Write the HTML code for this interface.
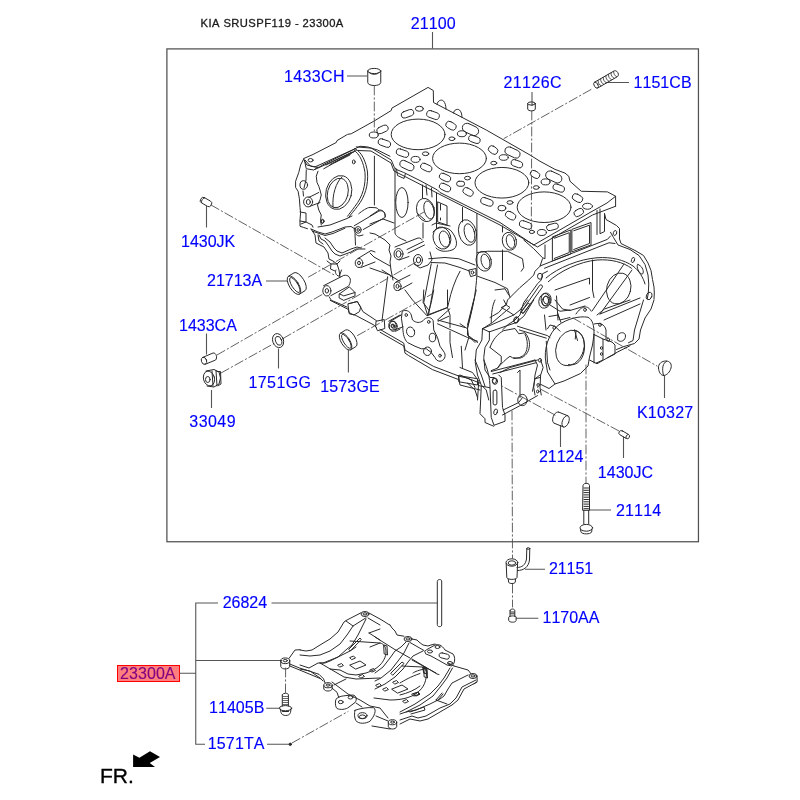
<!DOCTYPE html>
<html><head><meta charset="utf-8"><style>
html,body{margin:0;padding:0;background:#fff;width:800px;height:800px;overflow:hidden}
svg{display:block;will-change:transform}
text{font-family:"Liberation Sans",sans-serif;font-kerning:none}
.l{font-size:16px;fill:#0000ff;letter-spacing:0.4px;stroke:#0000ff;stroke-width:0.15}
.k{stroke:#333;stroke-width:1;fill:none}
.g{stroke:#555;stroke-width:1.1;fill:none}
.d{stroke:#505050;stroke-width:0.9;fill:none;stroke-dasharray:9 2.8 1.4 2.8}
.e{stroke:#2a2a2a;stroke-width:1;fill:none;stroke-linejoin:round;stroke-linecap:round}
.e *{vector-effect:non-scaling-stroke}
.ew{stroke:#2a2a2a;stroke-width:0.9;fill:#fff;stroke-linejoin:round}
</style></head><body>
<svg width="800" height="800" viewBox="0 0 800 800">
<!-- title -->
<text x="200.6" y="27" style="font-size:11.2px;letter-spacing:0.43px;fill:#1a1a1a;stroke:#1a1a1a;stroke-width:0.3">KIA SRUSPF119 - 23300A</text>
<!-- frame -->
<rect x="166.9" y="48.9" width="531.55" height="492.85" style="stroke:#505050;stroke-width:1.25;fill:none"/>
<path class="g" d="M432.5 32V48.5"/>

<!-- labels -->
<g class="l">
<text x="410.75" y="28.75" style="letter-spacing:0.088px">21100</text>
<text x="284.00" y="82" style="letter-spacing:0.350px">1433CH</text>
<text x="503.50" y="87.5" style="letter-spacing:0.400px">21126C</text>
<text x="633.50" y="87.5" style="letter-spacing:0.050px">1151CB</text>
<text x="181.00" y="247" style="letter-spacing:0.000px">1430JK</text>
<text x="207.00" y="286.25" style="letter-spacing:0.000px">21713A</text>
<text x="179.00" y="331.25" style="letter-spacing:0.000px">1433CA</text>
<text x="248.50" y="388.4" style="letter-spacing:0.400px">1751GG</text>
<text x="320.20" y="392" style="letter-spacing:0.160px">1573GE</text>
<text x="189.30" y="427" style="letter-spacing:0.450px">33049</text>
<text x="637.00" y="418" style="letter-spacing:0.200px">K10327</text>
<text x="539.00" y="462" style="letter-spacing:-0.037px">21124</text>
<text x="597.75" y="478" style="letter-spacing:0.050px">1430JC</text>
<text x="616.00" y="515.8" style="letter-spacing:0.150px">21114</text>
<text x="549.00" y="573.75" style="letter-spacing:-0.100px">21151</text>
<text x="542.50" y="623" style="letter-spacing:0.000px">1170AA</text>
<text x="222.75" y="608" style="letter-spacing:-0.037px">26824</text>
<text x="209.00" y="713" style="letter-spacing:0.050px">11405B</text>
<text x="207.75" y="749.25" style="letter-spacing:0.150px">1571TA</text>
</g>
<!-- highlighted label -->
<text x="120.1" y="678.7" class="l" style="letter-spacing:0.05px">23300A</text>
<rect x="117.5" y="665.5" width="62" height="16" fill="rgba(255,0,0,0.5)" stroke="#ff0000" stroke-width="1"/>

<!-- FR -->
<text x="100" y="782.75" style="font-size:21px;fill:#000;stroke:#000;stroke-width:0.35">FR.</text>
<polygon points="133.1,754.4 139.4,757.75 150,751.25 160,756.9 149.75,763.1 155,766.9 133.1,766.9" fill="#000"/>

<!-- lower bracket leaders -->
<path class="g" d="M218 603H195.75V744.25H205M195.75 660.5H282M179.5 673.25H195.75M271.5 603H437.3M267 744.25H290M266.25 708.2H279.4"/>
<path class="g" d="M347 76H367M206.5 206V227.5M266 281H287.5M206.5 333.5V354.5M211.5 390V408M278.5 348.5V368.6M348.4 350V372.5M664.5 376V398M560.5 425V447M623.5 436.5V458M589.5 510H611M525 569.25H545M516 618.2H538.3M532 92V106M606 82.5H629"/>

<g class="e">
<path d="M303.75,158.5 L313,154.5 L336.25,142.5 L337,140.6 L347.5,134.4 L351.25,133.75 L373.75,121.25 L391.25,110.5 L391.9,108.1 L428.1,87.4 L433.3,90.5 L433.5,102.5 L486.25,130 L530,155 L540,161.25 L555,169.4 L565,173.1 L568.75,176.25 L570,181.25 L581.25,191.25 L607.5,191.9 L615.6,196.25 L615.6,206.25"/>
<path d="M304,160 L306.9,165 L315,166.9 L355,148.75"/>
<path d="M315,169.4 L356.25,150.6"/>
<path d="M356.25,146.9 L371.25,148.1 L391.25,160 L394.4,167.5 L396.25,169.4 L403.75,172.5 L420,180.6 L437.5,190 L440,192.5 L500,222.5 L533.75,245 L590,212.5 L607,203 L615.6,196.25"/>
<path d="M358,150.5 L371,151 L391,163 L394,171 L403,175.5 L438,193.5 L500,225 L537.5,247 L552.5,238 L592.5,215 L615.6,206.25"/>
<ellipse cx="418.1" cy="134.4" rx="26.9" ry="15.3"/>
<ellipse cx="459.5" cy="158.4" rx="26.9" ry="15.3"/>
<ellipse cx="501.9" cy="182.75" rx="26.9" ry="15.3"/>
<ellipse cx="544.1" cy="207.2" rx="26.9" ry="15.3"/>
<ellipse cx="373.75" cy="135" rx="4.5" ry="3"/>
<ellipse cx="419.4" cy="108.75" rx="4" ry="2.5"/>
<ellipse cx="461.9" cy="133.75" rx="4.5" ry="3"/>
<ellipse cx="415.6" cy="159.4" rx="4.5" ry="3"/>
<ellipse cx="503.75" cy="157.5" rx="4.5" ry="2.8"/>
<ellipse cx="545.6" cy="181.9" rx="4.5" ry="3"/>
<ellipse cx="541.9" cy="232.5" rx="4.5" ry="3"/>
<ellipse cx="587.5" cy="206.25" rx="5" ry="3"/>
<ellipse cx="501.9" cy="208.1" rx="4" ry="2.8"/>
<ellipse cx="425.6" cy="153.75" rx="3.2" ry="1.9"/>
<ellipse cx="451.9" cy="138.75" rx="3" ry="1.8"/>
<ellipse cx="493.75" cy="163.1" rx="3" ry="1.8"/>
<ellipse cx="510" cy="202.5" rx="3" ry="1.8"/>
<ellipse cx="536.25" cy="187.5" rx="3" ry="1.8"/>
<ellipse cx="531.9" cy="231.9" rx="2.6" ry="1.6"/>
<ellipse cx="467.5" cy="178.1" rx="3" ry="1.8"/>
<rect x="376.5" y="126.2" width="12" height="6.4" rx="3.2" transform="rotate(-25 382.5 129.4)"/>
<rect x="377.9" y="139.9" width="13.0" height="6.4" rx="3.2" transform="rotate(20 384.4 143.1)"/>
<rect x="401.0" y="110.55" width="13.0" height="6.4" rx="3.2" transform="rotate(-20 407.5 113.75)"/>
<rect x="426.5" y="111.6" width="13.0" height="6.8" rx="3.4" transform="rotate(20 433 115)"/>
<rect x="445.5" y="122.3" width="11.0" height="6.8" rx="3.4" transform="rotate(30 451 125.7)"/>
<rect x="462.0" y="124.89999999999999" width="17.0" height="9.0" rx="4.5" transform="rotate(25 470.5 129.4)"/>
<rect x="396.0" y="149.9" width="13.0" height="6.4" rx="3.2" transform="rotate(20 402.5 153.1)"/>
<rect x="399.4" y="162.0" width="15.0" height="7.2" rx="3.6" transform="rotate(25 406.9 165.6)"/>
<rect x="420.25" y="164.3" width="12" height="6.4" rx="3.2" transform="rotate(25 426.25 167.5)"/>
<rect x="439" y="174.3" width="12" height="6.4" rx="3.2" transform="rotate(25 445 177.5)"/>
<rect x="439" y="184.3" width="12" height="6.4" rx="3.2" transform="rotate(25 445 187.5)"/>
<rect x="468.4" y="136.20000000000002" width="12" height="6.4" rx="3.2" transform="rotate(20 474.4 139.4)"/>
<rect x="488.1" y="146.6" width="10" height="6.8" rx="3.4" transform="rotate(35 493.1 150)"/>
<rect x="504.5" y="148.5" width="16" height="8" rx="4" transform="rotate(25 512.5 152.5)"/>
<rect x="510.9" y="160.55" width="12" height="6.4" rx="3.2" transform="rotate(20 516.9 163.75)"/>
<rect x="530" y="171.20000000000002" width="10" height="6.4" rx="3.2" transform="rotate(30 535 174.4)"/>
<rect x="545.25" y="172.6" width="17.0" height="8.6" rx="4.3" transform="rotate(25 553.75 176.9)"/>
<rect x="552.75" y="184.9" width="12" height="6.4" rx="3.2" transform="rotate(20 558.75 188.1)"/>
<rect x="572.0" y="194.7" width="11.0" height="6.8" rx="3.4" transform="rotate(30 577.5 198.1)"/>
<rect x="573.75" y="209.3" width="10" height="6.4" rx="3.2" transform="rotate(-30 578.75 212.5)"/>
<rect x="505.1" y="212.2" width="11.0" height="6.8" rx="3.4" transform="rotate(30 510.6 215.6)"/>
<rect x="519.1" y="221.7" width="13.0" height="6.6" rx="3.3" transform="rotate(20 525.6 225)"/>
<rect x="546.5" y="223.9" width="12" height="6" rx="3" transform="rotate(-15 552.5 226.9)"/>
<rect x="462.6" y="188.6" width="11.0" height="6.6" rx="3.3" transform="rotate(30 468.1 191.9)"/>
<rect x="480.4" y="198.6" width="13.0" height="6.6" rx="3.3" transform="rotate(20 486.9 201.9)"/>
<rect x="456.6" y="181.25" width="8" height="5.0" rx="2.5" transform="rotate(0 460.6 183.75)"/>
<path d="M437,104.3 C437.5,100.5 441.5,99 443.5,101 C445,102.5 446,105.5 446,109"/>
<path d="M453.5,113 C454,109.5 457.5,108.5 459.5,110 C461,111.5 462,114 462,117.5"/>
<path d="M303.75,158.75 L300.6,165 L298.75,172.5 L295.6,181.25 L295.6,187.5 L298.1,191.25 L299.4,198.75 L300,207.5 L300.6,212.5 L300,220 L300,226.25 L303.75,227.5 L307.5,228.75 M355,148.75 C362,152 366,162 367.5,172 C368.5,185 365,197 357.5,206.25 C354,211 351,214 348.75,217.5 M353.75,150 C360,154 363.5,163 365,172.5 C366,185 362.5,197 355,206.25 C352,210.5 349.5,213.5 347.5,216.25 M305,160 L310.6,166.25 L318.75,167.5 L322.5,165 L352.5,150 L355,148.75 M323.75,168.75 L353.75,151.9 M326,165 L352,152 M330,164.5 L351,153.5 M335,162.5 L350,155 M304.4,160 L306.25,168.75 L313.75,170 L318,167 M318,171.25 L316.25,176.25 L317,182.5 L318.75,186.25 L320,190 L321.25,195 L320,200 L317.5,205 L318.75,210 L321.25,215 L320.6,220 L321.25,225 M306.25,170 L306,180 L304,188 M303,191 L303.5,196 M308.75,197.5 L318.75,192.5 M310,206.25 L320,202.5 M374.4,156.25 L374.4,205 M355,148.75 L360,146.25 L367.5,146.9 L377.5,150 L390,156.25 M300,212 L306,213 L306,222 L301,224"/>
<ellipse cx="303.75" cy="185" rx="3.8" ry="4.3"/>
<ellipse cx="308.1" cy="201.9" rx="4.5" ry="5"/>
<ellipse cx="308.3" cy="202" rx="2" ry="2.5"/>
<ellipse cx="338.75" cy="192.5" rx="12.8" ry="17.2" transform="rotate(15 338.75 192.5)"/>
<ellipse cx="337.8" cy="193" rx="10.2" ry="15" transform="rotate(15 337.8 193)"/>
<path d="M342,177 C336,182 332,195 333,207"/>
<ellipse cx="353.75" cy="161.9" rx="1.4" ry="2"/>
<ellipse cx="322.5" cy="221.25" rx="1.4" ry="2"/>
<ellipse cx="310.6" cy="160.2" rx="2.5" ry="1.7"/>
<ellipse cx="401.9" cy="202.5" rx="6.2" ry="15"/>
<path d="M395,168 L395,200"/>
<ellipse cx="467.5" cy="232.5" rx="8.75" ry="13" transform="rotate(-15 467.5 232.5)"/>
<ellipse cx="469.5" cy="233" rx="5" ry="9.5" transform="rotate(-15 469.5 233)"/>
<ellipse cx="509.4" cy="241.25" rx="7" ry="9" transform="rotate(-15 509.4 241.25)"/>
<ellipse cx="510.5" cy="241.5" rx="4" ry="7" transform="rotate(-15 510.5 241.5)"/>
<ellipse cx="397.5" cy="286.25" rx="3.6" ry="4.3"/>
<ellipse cx="397.5" cy="286.25" rx="1.5" ry="2"/>
<path d="M396,282 L410,275 M398.5,290.5 L412,283"/>
<path d="M476.9,213.5 L476.9,275 C476,290 474,300 472.5,307.5 L467.5,328.75 L467.5,335 L477.5,342.5"/>
<path d="M436.5,193 L436.5,228 M462.5,207.5 L462.5,222 M502.5,226 L502.5,232 M502.5,250 L502.5,280 M422.5,185 L422.5,198"/>
<ellipse cx="483.75" cy="261.25" rx="7.5" ry="10" transform="rotate(-15 483.75 261.25)"/>
<ellipse cx="485.5" cy="261.5" rx="4.2" ry="7.5" transform="rotate(-15 485.5 261.5)"/>
<path d="M433,232 C437,226 448,226 452,232 C458,240 458,248 452,250 C446,252 440,252 436,248"/>
<path d="M428.75,258.75 L445,257.5 L458.75,258.75 L475,265 M431,262.5 L445,263 L460,267.5 L470,271.25"/>
<path d="M431.25,263.75 L423.75,302.5 L427.5,315 M437.5,265 L428.75,313.75"/>
<path d="M460,271.25 C455,280 451,292 448.75,302.5 L447.5,307.5 L427.5,315 M450,308.75 L437.5,320 L465,327.5"/>
<path d="M469,270 L476,268.5 L476,275 L471,276.5 Z"/><ellipse cx="472.5" cy="272.5" rx="1.3" ry="1.6"/>
<path d="M354.25,225.75 L378.25,211.5 C381,210 384.5,211 385,214 L385,217.5 L363.25,229.5"/>
<path d="M358.75,213.75 C362,211 367,207.5 370,207.4 L376,207.75 C378,208.5 379,209.5 379,210.5"/>
<path d="M396.5,169 L397.5,175.5 L404,178.5 L405.5,173.5"/>
<path d="M426,185 L427,195 M431.5,188 L432,197"/>
<g transform="translate(295,205) scale(0.1)">
<path d="M50,160 L110,170 L170,200 L180,222"/>
<path d="M230,220 L350,200 L520,135 L570,110"/>
<path d="M160,240 L230,270 L300,290 L370,270 L500,220 L560,215 L600,240"/>
<path d="M175,262 L300,305 L380,285 L500,232"/>
<path d="M160,240 L200,300 L210,380 L250,400 L290,420 L330,480 L340,540 L380,560 L420,590 L440,650 L450,720"/>
<path d="M240,300 L260,340 L300,360 L330,400 L370,460 L400,490 L450,510 L560,470 L610,440 L700,440"/>
<path d="M300,330 L350,370 L390,430 L420,460 L470,480 L560,440 L620,420 L660,430"/>
<ellipse cx="632" cy="249" rx="30" ry="34"/>
<ellipse cx="632" cy="250" rx="12" ry="15"/>
<path d="M595,230 C585,260 600,300 640,310 L680,300"/>
<ellipse cx="640" cy="580" rx="38" ry="45"/>
<ellipse cx="640" cy="580" rx="14" ry="18"/>
<path d="M630,535 L760,455 L800,470 M660,625 L800,570"/>
<path d="M600,290 L605,400"/>
<ellipse cx="275" cy="165" rx="14" ry="18" transform="rotate(25 275 165)"/>
<path d="M320,560 L360,590 L420,590 L450,560 M360,590 L355,640 L400,660"/>
<path d="M230,300 L240,360 L280,390"/>
</g>
<g transform="translate(310,270) scale(0.1125)">
<ellipse cx="150" cy="185" rx="36" ry="46"/>
<ellipse cx="150" cy="185" rx="15" ry="20"/>
<path d="M120,140 L300,48 C340,40 365,70 358,105 C352,130 345,140 340,145 L185,228"/>
<path d="M262,212 L350,150 L400,200 L400,230 L300,270 L262,250 Z M262,212 L300,230 L400,200"/>
<path d="M170,238 L190,270 L240,290 L330,330 M345,300 L420,280 L450,330 L470,370 L560,430 L590,450"/>
<path d="M180,270 L340,350 L350,390 L400,400 L570,490 L590,510"/>
<path d="M340,300 L420,280 L450,330 L440,370 L390,400 L350,380 Z"/>
<ellipse cx="740" cy="500" rx="35" ry="45"/>
<ellipse cx="740" cy="500" rx="14" ry="18"/>
<path d="M700,455 L800,400 M760,545 L800,525"/>
<path d="M590,455 L660,440 L665,520 L600,540 L585,505 Z"/>
<path d="M690,60 L640,450 M640,0 L780,90 L800,100"/>
<path d="M230,0 C220,20 230,50 260,55 L280,0"/>
</g>
<g transform="translate(370,200) scale(0.1)">
<path d="M250,0 L250,330 C255,355 280,375 340,400 L360,410"/>
<ellipse cx="555" cy="100" rx="88" ry="118" transform="rotate(-15 555 100)"/>
<ellipse cx="590" cy="100" rx="48" ry="92" transform="rotate(-15 590 100)"/>
<path d="M470,130 L550,200"/>
<path d="M680,20 L770,60 L770,250 L680,220 Z"/>
<path d="M705,40 L705,200" style="stroke-dasharray:6 8"/>
<ellipse cx="720" cy="380" rx="88" ry="112" transform="rotate(-15 720 380)"/>
<ellipse cx="745" cy="390" rx="50" ry="82" transform="rotate(-15 745 390)"/>
<path d="M530,230 L530,380"/>
<path d="M0,160 L90,100 C120,95 150,120 155,165 M0,240 L130,190 L240,230"/>
<ellipse cx="285" cy="540" rx="45" ry="55"/>
<ellipse cx="285" cy="540" rx="25" ry="33"/>
<path d="M250,470 L480,380 C505,378 520,390 520,400 M290,600 L390,565"/>
<path d="M370,495 L535,415 M380,530 L545,450"/>
<ellipse cx="480" cy="600" rx="45" ry="55"/>
<ellipse cx="485" cy="600" rx="22" ry="28"/>
<path d="M440,640 L500,680 L580,650 L620,600 L600,520"/>
<path d="M0,330 L50,340 L150,400 L200,450 L190,500 L210,560 L200,620 L210,700 L230,800"/>
<path d="M0,530 L40,570 L200,660 M0,680 L200,750"/>
<path d="M620,250 L660,230 L800,260"/>
</g>
<g transform="translate(380,290) scale(0.125)">
<path d="M0,315 L190,425 L200,480 L240,505 L430,612 L640,692 L700,705 L800,745"/>
<path d="M0,338 L190,447 L200,505 L230,525 L420,637 L630,717 L640,760 L800,800"/>
<path d="M180,170 C200,155 240,165 250,200 L260,240 C290,265 320,265 345,245 C365,215 410,210 425,245 L430,320 L460,380 L480,450 L515,500 C530,530 515,565 480,570 C460,570 445,555 440,540 L410,500 L370,470 L330,470 L280,450 L220,420 C195,395 185,360 182,300 L172,230 Z"/>
<ellipse cx="210" cy="200" rx="10" ry="12"/>
<ellipse cx="390" cy="255" rx="10" ry="12"/>
<ellipse cx="245" cy="335" rx="32" ry="40" transform="rotate(-20 245 335)"/>
<ellipse cx="420" cy="380" rx="26" ry="34"/>
<ellipse cx="480" cy="525" rx="10" ry="12"/>
<ellipse cx="380" cy="490" rx="32" ry="34"/>
<ellipse cx="100" cy="285" rx="30" ry="35"/>
<ellipse cx="100" cy="287" rx="12" ry="14"/>
<path d="M80,252 L170,200 M112,320 L185,295"/>
<path d="M200,0 L260,80 L375,205 M350,0 L345,100 L390,160 M430,0 L410,100 L380,205"/>
<path d="M380,205 L540,140 L560,200 L560,300 M460,270 L700,380 L780,410 M465,250 L550,210"/>
<path d="M540,0 L540,130 M770,0 L700,300 L700,360 L760,420 M560,330 L560,420 L580,540 M650,450 L660,620"/>
</g>
<g transform="translate(540,200) scale(0.15)">
<path d="M430,90 L440,130 L510,170 L530,190 L530,260 L540,290 L580,310 L640,340 L690,370 L720,420 L740,470 L750,530 L760,580 L762,620 L760,660"/>
<path d="M470,215 L490,250 L520,300 L600,330 L660,370 L700,430 L720,500 L725,560 L722,620 L715,660"/>
<path d="M380,70 L380,230 M400,60 L400,225 L430,210 L430,95"/>
<ellipse cx="500" cy="220" rx="11" ry="17" transform="rotate(20 500 220)"/>
<ellipse cx="620" cy="400" rx="10" ry="18" transform="rotate(20 620 400)"/>
<path d="M650,430 C640,445 660,490 680,495 C695,490 690,455 670,440 Z"/>
<ellipse cx="727" cy="640" rx="18" ry="26" transform="rotate(20 727 640)"/>
<path d="M85,245 L205,200 L205,360 L85,405 Z M95,255 L195,218 L195,350 L95,390"/>
<path d="M215,195 L340,150 L340,300 L215,345 Z M225,205 L330,168 L330,290 L225,330"/>
<path d="M0,440 L450,262 L470,240 M30,455 L460,285 L500,290"/>
<path d="M40,520 C120,450 260,395 380,385 C480,378 560,400 620,440 C660,470 690,520 700,560"/>
<path d="M55,545 C130,475 265,410 380,400 C475,393 555,415 610,455"/>
<path d="M350,400 L350,600 L360,650 M347,740 L560,427 M400,760 L613,467 M400,760 L667,653 M427,800 L667,693"/>
<ellipse cx="525" cy="590" rx="80" ry="105" transform="rotate(15 525 590)"/>
<ellipse cx="38" cy="665" rx="30" ry="42" transform="rotate(-10 38 665)"/>
<ellipse cx="40" cy="667" rx="17" ry="26" transform="rotate(-10 40 667)"/>
<path d="M100,600 L330,520 L330,560 M110,640 L120,800 M200,700 L330,650"/>
<path d="M240,760 C280,700 320,700 340,740"/>
</g>
<g transform="translate(540,300) scale(0.15)">
<path d="M40,420 C20,330 60,220 120,170 C180,125 260,105 320,115 C350,130 362,170 360,230"/>
<path d="M40,420 L50,480 L100,560 L160,540 L270,490 L320,440 L330,380 L350,300 L360,230"/>
<ellipse cx="200" cy="320" rx="92" ry="122" transform="rotate(20 200 320)"/>
<path d="M230,200 C290,215 310,290 290,360 C270,420 230,440 190,430"/>
<path d="M230,200 L250,270 M240,210 L235,260"/>
<path d="M760,0 L740,60 L700,120 L670,200 L660,260 L630,290 L560,310 L510,330"/>
<path d="M690,0 L660,100 L630,200 L620,270 L590,285"/>
<path d="M330,400 L380,425 L450,385 L520,345 L600,305"/>
<path d="M360,230 L420,260 L420,400 L375,420 M360,230 L360,420"/>
<path d="M420,260 L480,280 L500,300 L500,360 L450,385"/>
<path d="M360,160 C400,150 430,160 440,200 L440,260"/>
<path d="M100,0 L150,60 L200,70 L300,40 M60,110 L120,100 L140,150 M30,100 L40,200"/>
<path d="M380,100 L430,60 L600,0"/>
<ellipse cx="95" cy="185" rx="9" ry="11"/>
<ellipse cx="300" cy="65" rx="9" ry="11"/>
<ellipse cx="400" cy="165" rx="9" ry="11"/>
<ellipse cx="455" cy="265" rx="9" ry="11"/>
<ellipse cx="410" cy="320" rx="7" ry="9"/>
<ellipse cx="410" cy="360" rx="7" ry="9"/>
<path d="M520,230 C540,210 570,215 570,240 C570,270 540,285 520,270 Z"/>
<path d="M0,560 L60,590 L100,560"/>
</g>
<g class="d">
<path d="M573,318 L657,366"/>
</g>
<g transform="translate(460,300) scale(0.125)">
<path d="M180,230 L235,255 M180,230 L175,320 L130,400 L122,500 L140,600 L170,680 L210,720 L230,800"/>
<path d="M235,255 L235,320 L200,380 L190,460 L200,560 L240,620 L270,620"/>
<path d="M240,380 C260,320 300,270 350,245 L440,228 L470,270 L520,262 C545,290 560,330 555,370 C550,420 520,455 480,465 L420,462 L400,450 C370,470 330,510 300,545 L250,565"/>
<path d="M520,275 C545,320 545,390 520,430 C500,455 460,470 430,468"/>
<path d="M240,380 L330,450 L330,500 L300,545"/>
<path d="M180,230 L430,120 L480,80 L540,0 M235,255 L450,180 L510,130 L565,40 L590,0"/>
<path d="M490,95 L545,25 L560,35 L505,105 Z"/>
<ellipse cx="450" cy="160" rx="16" ry="24" transform="rotate(20 450 160)"/>
<path d="M460,210 L700,285 L720,300 M475,240 L690,305"/>
<path d="M600,480 L620,520 L600,600 L590,700 L600,760 M645,480 L665,540 L645,600 L640,700 L650,760"/>
<ellipse cx="640" cy="482" rx="12" ry="15"/>
<ellipse cx="625" cy="680" rx="10" ry="12"/>
<ellipse cx="622" cy="732" rx="10" ry="12"/>
<path d="M250,572 L600,480 M262,592 L608,502"/>
<ellipse cx="280" cy="650" rx="20" ry="25"/>
<path d="M0,190 L60,230 L70,300 L40,400 M110,0 L60,200 M0,540 L100,580 L150,650 L140,800 M0,600 L90,640 L120,700"/>
<path d="M700,230 L720,200 L760,210 L800,250 M690,330 L700,500 L720,560"/>
<path d="M280,0 C260,40 250,100 250,180 M350,0 L370,40 L330,60 L400,100 L430,120"/>
</g>
<g transform="translate(440,360) scale(0.125)">
<path d="M150,125 L300,150 L300,200 L155,175 Z M150,125 L155,175 M220,185 L280,240 L300,300"/>
<path d="M310,205 L400,222 L410,460 L432,522 L520,490 L520,440 L500,380 L490,140 L470,120"/>
<path d="M330,210 L320,430 L360,470 L360,500 L430,530"/>
<ellipse cx="435" cy="165" rx="17" ry="22"/>
<rect x="425" y="240" width="30" height="120" rx="15"/>
<ellipse cx="445" cy="415" rx="14" ry="24" transform="rotate(15 445 415)"/>
<path d="M500,440 L640,365 L780,285 M505,400 L630,340 L660,300"/>
<ellipse cx="660" cy="320" rx="38" ry="45"/>
<path d="M350,0 C380,70 400,140 400,222 M280,0 L330,120 L360,210"/>
<path d="M760,150 L800,140 M740,250 L760,150 L800,120 M620,100 L640,80 L640,300"/>
<path d="M480,100 L560,60 L780,0"/>
</g>
<g transform="translate(470,230) scale(0.125)">
<path d="M430,80 L510,150 L580,222 L600,230 L600,120"/>
<path d="M580,230 L560,290 L520,330 L510,360 L470,400 L400,460 L320,540 L300,560 L290,600 L320,620 L250,680 L180,740 L100,790"/>
<path d="M620,330 L580,350 L570,400 L540,430 L490,500 L430,580 L410,640 L400,680 L360,720 L300,760 L260,800"/>
<path d="M560,440 C570,432 585,445 578,458 L432,662 C425,670 408,660 414,650 Z"/>
<ellipse cx="560" cy="370" rx="20" ry="24"/>
<ellipse cx="370" cy="720" rx="20" ry="26" transform="rotate(20 370 720)"/>
<ellipse cx="600" cy="565" rx="48" ry="62" transform="rotate(20 600 565)"/>
<ellipse cx="605" cy="568" rx="28" ry="40" transform="rotate(20 605 568)"/>
<path d="M60,180 L140,170 L300,170 L420,230 L430,300 L410,330"/>
<path d="M60,370 L200,420 L300,470 L320,540 M200,480 L280,470 L310,520 M160,700 L230,660 L280,600"/>
<path d="M640,600 L720,650 L800,640 M700,660 L720,720 L800,700"/>
</g>

<!-- dash-dot leader lines -->
<g class="d">
<path d="M374.3,86 L374.3,131"/>
<path d="M531.8,111 L531.3,229"/>
<path d="M591,89.5 L504,138.5"/>
<path d="M211,205 L336,276"/>
<path d="M308.5,277 L424,212"/>
<path d="M217,355 L323,294"/>
<path d="M221,373 L274,343.5 M283,338.5 L418,261"/>
<path d="M357.5,335.5 L432,294"/>
<path d="M555,415 L500,385"/>
<path d="M619,431 L537.5,387.5"/>
<path d="M586,365 L586,483"/>
<path d="M512,411 L512.5,558 M512.5,584 L512.5,607"/>
</g>
<!-- 1433CH sleeve -->
<ellipse cx="374.25" cy="71" rx="6.5" ry="2.6"/>
<path d="M369.5,72.5 C371,75 377.5,75 379,72.5"/>
<path d="M367.75,71 L367.75,82.5 C368,86.5 380.5,86.5 380.75,82.5 L380.75,71"/>
<!-- 21126C pin -->
<ellipse cx="531.5" cy="103.5" rx="3.8" ry="1.6"/>
<path d="M527.7,103.5 L527.7,109 C528,111.5 535,111.5 535.3,109 L535.3,103.5"/>
<!-- 1151CB stud -->
<g transform="rotate(-30 606.2 79.3)">
<path d="M594.5,76 L617,76 C620.5,76 620.5,82.6 617,82.6 L594.5,82.6"/>
<ellipse cx="594.5" cy="79.3" rx="1.9" ry="3.3"/>
<path d="M598.5,76.3 C597.3,78 597.3,80.6 598.5,82.3 M601.5,76.3 C600.3,78 600.3,80.6 601.5,82.3 M604.5,76.3 C603.3,78 603.3,80.6 604.5,82.3 M607.5,76.3 C606.3,78 606.3,80.6 607.5,82.3 M610.5,76.3 C609.3,78 609.3,80.6 610.5,82.3 M613.5,76.3 C612.3,78 612.3,80.6 613.5,82.3 M616.5,76.3 C615.3,78 615.3,80.6 616.5,82.3" style="stroke-width:0.8"/>
</g>
<!-- 1430JK pin -->
<g transform="rotate(30 206 202)">
<rect x="200" y="199" width="12" height="6" rx="2.5"/>
<path d="M202.5,199.2 C201,201 201,203 202.5,204.8"/>
</g>
<!-- 21713A ring -->
<g transform="translate(294.0 285.2) rotate(-32)">
<path d="M0,-10.5 L6.5,-10.5 A4.6,10.5 0 0 1 6.5,10.5 L0,10.5"/>
<ellipse cx="0" cy="0" rx="4.6" ry="10.5"/>
<ellipse cx="0.8" cy="0.3" rx="3.0" ry="8.6"/>
</g>
<!-- 1573GE ring -->
<g transform="translate(345.6 341.5) rotate(-32)">
<path d="M0,-9.765 L6.045,-9.765 A4.278,9.765 0 0 1 6.045,9.765 L0,9.765"/>
<ellipse cx="0" cy="0" rx="4.278" ry="9.765"/>
<ellipse cx="0.7440000000000001" cy="0.3" rx="2.79" ry="7.998"/>
</g>
<!-- 1433CA pin -->
<path d="M202.5,357.5 L213,353 C216.5,352.5 217.5,358 215.6,360 L205,364.4"/>
<ellipse cx="204" cy="360.8" rx="2.6" ry="3.6" transform="rotate(-20 204 360.8)"/>
<!-- 1751GG washer -->
<ellipse cx="278.1" cy="340.6" rx="5.4" ry="7.2" transform="rotate(-20 278.1 340.6)"/>
<ellipse cx="278.6" cy="340.8" rx="3" ry="4.6" transform="rotate(-20 278.6 340.8)"/>
<!-- 33049 plug -->
<ellipse cx="209" cy="378.5" rx="5.5" ry="7.5" transform="rotate(-15 209 378.5)"/>
<ellipse cx="207.8" cy="379.5" rx="2.3" ry="3" />
<path d="M206,371 L214,369.5 L219,372 L220.5,378 L219,384 L214,387 L207,386"/>
<path d="M217,371.5 L220.5,371.5 L221,384 L218.5,385.5"/>
<path d="M212,371 L213,386 M216,370.5 L217,386"/>
<!-- K10327 plug -->
<path d="M658.5,368 C658,363.5 662,361 666,361 C670,361 672,364 671,368 C670,372 667,375 664,375.5 C660.5,375.5 658.8,372 658.5,368 Z"/>
<path d="M666.5,361.3 C663,363 661.5,368 663.5,375.3"/>
<!-- 21124 sleeve -->
<g transform="rotate(22 561 419.5)">
<path d="M556,413.5 L566,413.5 M556,425.5 L566,425.5 M556,413.5 C551.5,413.5 551.5,425.5 556,425.5"/>
<ellipse cx="566" cy="419.5" rx="3.2" ry="6"/>
</g>
<!-- 1430JC pin -->
<g transform="rotate(30 624.2 434.6)">
<rect x="618.5" y="432.3" width="11.5" height="4.6" rx="2.2"/>
<path d="M627.6,432.4 C626.3,433.5 626.3,435.7 627.6,436.8"/>
</g>
<!-- 21114 bolt -->
<path d="M583,485.5 C583,482.5 589.5,482.5 589.5,485.5 L589.5,510.3 L583,510.3 Z"/>
<path d="M583.8,524 L583.8,510.3 M588.7,510.3 L588.7,524"/>
<path d="M584,488 H588.5 M584,490.3 H588.5 M584,492.6 H588.5 M584,494.9 H588.5 M584,497.2 H588.5 M584,499.5 H588.5 M584,501.8 H588.5 M584,504.1 H588.5 M584,506.4 H588.5 M584,508.7 H588.5"/>
<ellipse cx="586.3" cy="527.8" rx="6.3" ry="3.4"/>
<path d="M580.5,529.5 L581,532 C582,534.5 590.5,534.5 591.6,532 L592,529.5"/>
<!-- 21151 fitting -->
<ellipse cx="511.9" cy="562.5" rx="5.9" ry="3.7"/>
<ellipse cx="511.9" cy="563" rx="3.8" ry="2.2"/>
<path d="M506.2,563.5 L506.8,577.5 C507,580 516.8,580 517,577.5 L517.6,563.5"/>
<path d="M508.3,579 L508.5,582 C509,584 515,584 515.3,582 L515.5,579"/>
<path d="M517,567.5 C522,567.5 525.5,565 526.5,559 L526.8,548.5 M517.5,570.5 C524,570.5 528.5,567 529.5,560 L529.8,548.5"/>
<ellipse cx="528.3" cy="548.5" rx="1.5" ry="0.8"/>
<!-- 1170AA bolt -->
<path d="M510,610.5 C510,608.5 514.8,608.5 514.8,610.5 L514.8,616.5 M510,610.5 L510,616.5 M510.5,612 H514.3 M510.5,613.8 H514.3"/>
<path d="M508.7,617 C508.7,615.5 516.1,615.5 516.1,617 L516.1,620.5 C516.1,622.8 508.7,622.8 508.7,620.5 Z"/>

<!-- stud 26824 -->
<path d="M437.3,581 C437.3,579 441.7,579 441.7,581 L441.7,625 C441.7,627.3 437.3,627.3 437.3,625 Z"/>
<!-- ladder: left boss, lower-left rail, plates (6.67x tile) -->
<g transform="translate(280,605) scale(0.15)">
<ellipse cx="35" cy="372" rx="30" ry="19"/>
<ellipse cx="35" cy="371" rx="14" ry="8"/>
<path d="M5,374 L5,410 C12,432 58,432 65,410 L65,374"/>
<path d="M60,356 L100,300 L135,298"/>
<path d="M62,392 L130,420 L200,442 L260,462 L290,492 L300,518 M62,405 L200,462 L272,492"/>
<ellipse cx="320" cy="535" rx="28" ry="17"/>
<ellipse cx="320" cy="534" rx="13" ry="7"/>
<path d="M292,538 L292,560 C300,578 340,578 348,560 L348,538"/>
<path d="M345,552 L380,582 L392,618"/>
<path d="M370,642 C370,615 400,608 440,604 L485,600 C510,604 515,630 500,650 L460,680 C440,698 400,700 380,690 C370,680 368,660 370,642 Z"/>
<ellipse cx="405" cy="647" rx="16" ry="11"/>
<ellipse cx="470" cy="616" rx="16" ry="11"/>
<path d="M500,702 C530,690 590,680 625,685 C645,700 630,740 600,775 C570,792 525,795 505,770 C495,750 495,720 500,702 Z"/>
<ellipse cx="550" cy="738" rx="30" ry="20"/>
<ellipse cx="550" cy="745" rx="22" ry="12"/>
</g>
<!-- TL1: arch 1 + bay 1 (10x tile at 300,605) -->
<g transform="translate(300,605) scale(0.1)">
<path d="M0,450 L60,460 L120,450 L200,400 L300,340 L380,270 L440,170 L470,150 L610,78"/>
<ellipse cx="650" cy="90" rx="40" ry="25"/>
<ellipse cx="650" cy="89" rx="20" ry="11"/>
<path d="M0,500 L100,510 L200,500 L300,460 L400,390 L470,300 L530,210 L660,128"/>
<path d="M460,160 L530,210"/>
<path d="M660,140 L620,220 L580,300 L520,400 L470,440 L380,520 L230,580 L200,580"/>
<path d="M0,600 L90,630 L180,580 L250,580 L300,560 L400,510 L500,460 L560,420"/>
<path d="M690,80 L800,140 L850,170 L880,190 L900,200 M680,130 L800,200"/>
<path d="M490,440 L600,330 L612,345 L505,458 Z"/>
<path d="M690,280 L800,240 M690,280 L800,350 M700,420 L800,380"/>
<path d="M500,600 L600,560 L660,600 L560,640 Z"/>
<path d="M500,525 L535,510 L555,530 L520,545 Z M380,600 L415,585 L435,605 L400,620 Z M590,710 L625,695 L645,715 L610,730 Z M700,650 L735,635 L755,655 L720,670 Z"/>
<path d="M0,640 L100,660 L200,730 L230,760"/>
<path d="M200,580 L440,720 L560,740 L800,730"/>
<path d="M340,800 L460,740"/>
</g>
<!-- TL2: arch 2, bay 2, flange (10x tile at 375,625) -->
<g transform="translate(375,625) scale(0.1)">
<path d="M150,0 L170,30 L200,60 L220,100 L290,112"/>
<ellipse cx="330" cy="140" rx="40" ry="25"/>
<ellipse cx="330" cy="139" rx="20" ry="11"/>
<path d="M370,140 L420,150 L440,170 L480,200 L530,210 L560,200 L600,190"/>
<path d="M500,260 C520,240 560,225 600,200 C630,190 665,195 700,250 L780,290 C800,310 800,360 790,380 L770,410 L720,400 L650,360 L560,310 L510,290 Z"/>
<ellipse cx="550" cy="265" rx="25" ry="15"/>
<ellipse cx="625" cy="220" rx="25" ry="15"/>
<rect x="640" y="285" width="105" height="50" rx="25" transform="rotate(15 692 310)"/>
<ellipse cx="750" cy="380" rx="25" ry="15"/>
<path d="M310,170 L260,220 L200,260 L150,330 L80,420 L0,480"/>
<path d="M340,180 L290,280 L230,360 L160,450 L60,530 L0,560"/>
<path d="M480,260 L380,310 L330,370 L280,440 L200,520 L100,590 L0,640"/>
<path d="M350,175 L490,255 M370,340 L620,490 L640,495"/>
<path d="M0,120 L190,240 L350,330"/>
<path d="M380,480 C400,465 440,450 500,440"/>
<path d="M488,418 L515,428 L520,490 L495,482 Z"/>
<path d="M160,480 L270,370 L290,385 L180,500 Z"/>
<path d="M170,640 L270,600 L330,640 L230,680 Z"/>
<path d="M180,570 L215,555 L235,575 L200,590 Z M80,640 L115,625 L135,645 L100,660 Z M390,690 L425,675 L445,695 L410,710 Z M280,760 L315,745 L335,765 L300,780 Z M10,600 L45,585 L65,605 L30,620 Z"/>
</g>
<!-- TL3: right corner and rim (10x tile at 400,660) -->
<g transform="translate(400,660) scale(0.1)">
<ellipse cx="730" cy="160" rx="40" ry="25"/>
<ellipse cx="730" cy="159" rx="20" ry="11"/>
<path d="M770,165 L772,215 L740,240"/>
<path d="M680,150 L520,230 L480,290 L440,360 L400,390 L300,440 L160,500 L60,520 L0,540"/>
<path d="M760,200 L620,270 L560,380 L500,440 L400,480 L260,560 L180,580 L120,560 L0,600"/>
<path d="M770,220 L640,290 L580,400 L520,450 L280,590 L200,610 L100,590 L0,640"/>
<path d="M500,80 L440,180 L380,260 L300,340 L150,440 L0,520"/>
<path d="M525,80 L470,180 L410,260 L330,360 L200,450 L60,520"/>
<path d="M120,0 L360,130 M540,60 L680,100 L712,140 M480,30 L540,60"/>
<path d="M360,400 L470,440 M420,330 L360,400 L372,410 L430,340"/>
<path d="M230,70 L260,80 L265,140 L240,130 Z"/>
<path d="M0,230 C50,200 100,170 200,135 M0,350 C80,330 150,300 200,260"/>
<path d="M100,520 L240,470 L250,500 L110,540"/>
<path d="M120,340 L180,320 L200,340 L140,360 Z"/>
</g>
<!-- bays U curves -->
<path d="M350,641 L380,643 C384,644 386,647 386,652 C386,657 383,662 380,665 C376,669 372,671 366,673 L356,675 L348,674 L340,670 L330,669"/>
<path d="M402,666 L422,667 C425,668 426.5,670 426.5,674 C426,684 422,690 414,695 C406,699 398,700 390,700 L374,698"/>
<path d="M384,645 L387,646 L387.5,655 L384.5,654 Z M424,668 L427,669 L427.5,678 L424.5,677 Z"/>
<path d="M332,682 L340,688 L348,694 L360,700 L370,706 L380,708 L388,718"/>
<path d="M356,703 L362,707 M376,716 L388,721 M372,726 L390,729"/>
<!-- bottom boss -->
<g transform="translate(370,615) scale(0.15)">
<ellipse cx="150" cy="715" rx="28" ry="17"/>
<ellipse cx="150" cy="714" rx="13" ry="7"/>
<path d="M122,718 L122,745 C130,765 170,765 178,745 L178,718"/>
</g>
<!-- 11405B bolt -->
<path d="M282.3,695 C282.3,692.6 288.4,692.6 288.4,695 L288.4,706 M282.3,695 L282.3,706"/>
<path d="M283,696.5 H287.7 M283,698.5 H287.7 M283,700.5 H287.7 M283,702.5 H287.7 M283,704.5 H287.7" style="stroke-width:0.7"/>
<ellipse cx="285.5" cy="708.2" rx="6.2" ry="2.6"/>
<path d="M280.4,709 L281,712.5 C282,716.5 289.5,716.5 290.5,712.5 L291,709"/>
<path d="M282.5,711.5 L288.5,711.5"/>
<!-- 1571TA dot -->
<circle cx="290.3" cy="744.3" r="1.2" style="fill:#333"/>
<g class="d">
<path d="M285.6,668 L285.5,692.5"/>
<path d="M292,743 L348,711.5"/>
</g>

</g>
</svg>
</body></html>
